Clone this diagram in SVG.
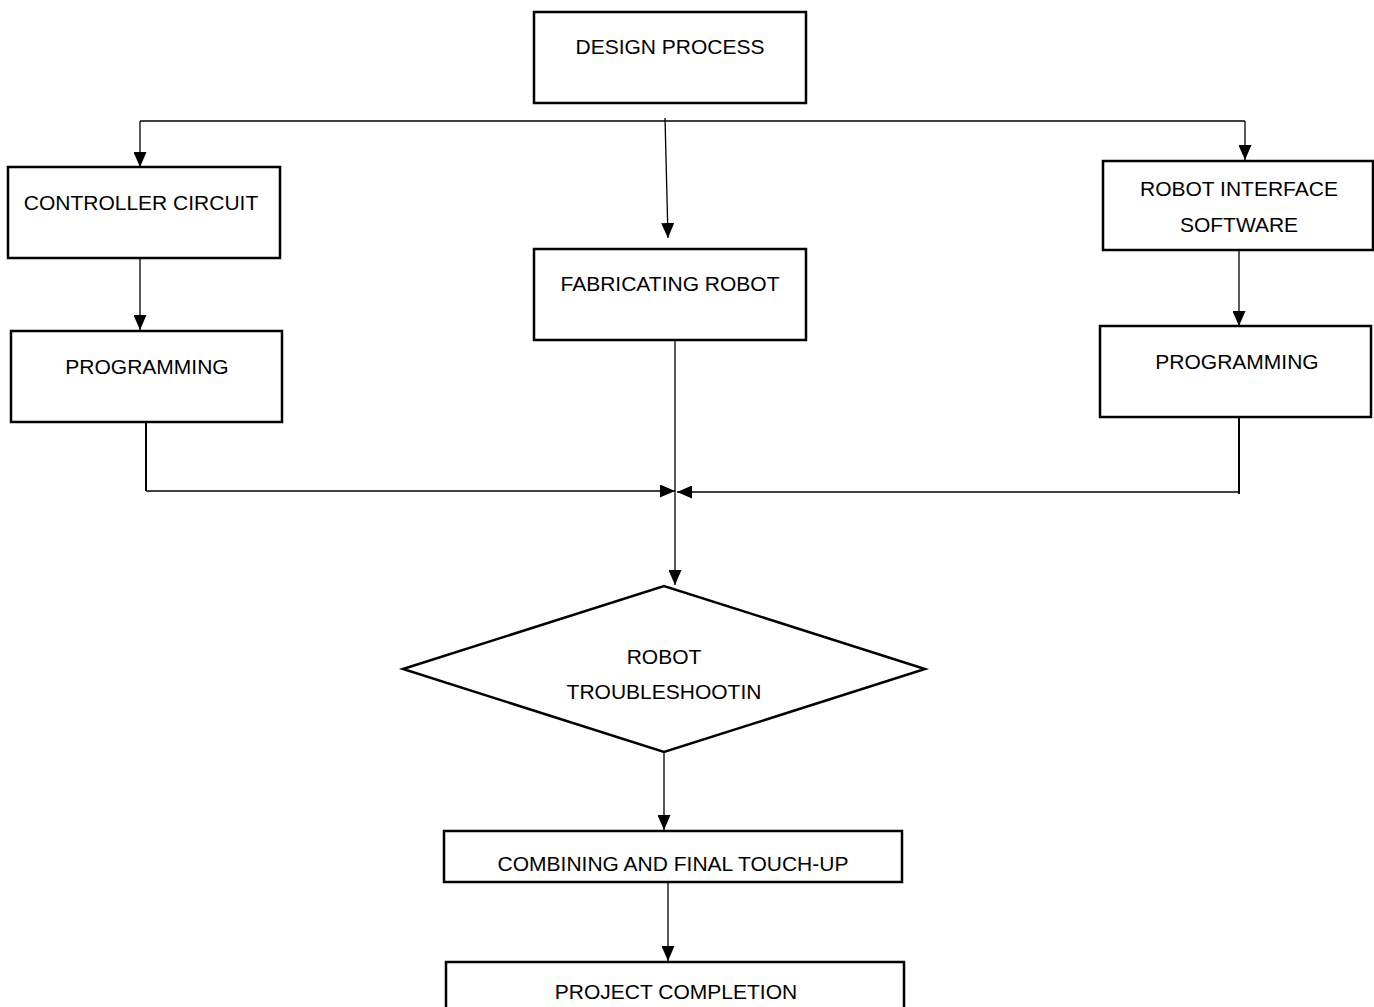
<svg xmlns="http://www.w3.org/2000/svg" width="1374" height="1007" viewBox="0 0 1374 1007">
<defs>
<style>
.box{fill:#fff;stroke:#000;stroke-width:2.5}
.ln{fill:none;stroke:#000;stroke-width:1.3}
.lnb{fill:none;stroke:#000;stroke-width:2}
text{font-family:"Liberation Sans",Arial,sans-serif;font-size:21px;fill:#000;text-anchor:middle}
</style>
<marker id="ah" viewBox="0 0 15 13" refX="15" refY="6.5" markerWidth="15" markerHeight="13" markerUnits="userSpaceOnUse" orient="auto">
<path d="M0,0 L15,6.5 L0,13 Z" fill="#000"/>
</marker>
</defs>
<rect width="1374" height="1007" fill="#fff"/>
<g id="connectors">
<path class="ln" d="M140,121 H1245"/>
<path class="ln" d="M140,121 V167" marker-end="url(#ah)"/>
<path class="ln" d="M1245,121 V160" marker-end="url(#ah)"/>
<path class="ln" d="M665,118 L668,238" marker-end="url(#ah)"/>
<path class="ln" d="M140,258 V330" marker-end="url(#ah)"/>
<path class="ln" d="M1239,250 V326" marker-end="url(#ah)"/>
<path class="lnb" d="M146,422 V491"/>
<path class="ln" d="M146,491 H675" marker-end="url(#ah)"/>
<path class="lnb" d="M1239,417 V494"/>
<path class="ln" d="M1239,492 H677" marker-end="url(#ah)"/>
<path class="ln" d="M675,340 V585" marker-end="url(#ah)"/>
<path class="ln" d="M664,752 V830" marker-end="url(#ah)"/>
<path class="ln" d="M668,882 V961" marker-end="url(#ah)"/>
</g>
<g id="design"><rect class="box" x="534" y="12" width="272" height="91"/><text x="670" y="54">DESIGN PROCESS</text></g>
<g id="controller"><rect class="box" x="8" y="167" width="272" height="91"/><text x="141" y="210">CONTROLLER CIRCUIT</text></g>
<g id="fabricating"><rect class="box" x="534" y="249" width="272" height="91"/><text x="670" y="291">FABRICATING ROBOT</text></g>
<g id="interface"><rect class="box" x="1103" y="161" width="270" height="89"/><text x="1239" y="196">ROBOT INTERFACE</text><text x="1239" y="232">SOFTWARE</text></g>
<g id="prog-left"><rect class="box" x="11" y="331" width="271" height="91"/><text x="147" y="374">PROGRAMMING</text></g>
<g id="prog-right"><rect class="box" x="1100" y="326" width="271" height="91"/><text x="1237" y="369">PROGRAMMING</text></g>
<g id="troubleshoot"><polygon class="box" points="403,669 664,586 925,669 664,752"/><text x="664" y="664">ROBOT</text><text x="664" y="699">TROUBLESHOOTIN</text></g>
<g id="combining"><rect class="box" x="444" y="831" width="458" height="51"/><text x="673" y="871">COMBINING AND FINAL TOUCH-UP</text></g>
<g id="completion"><rect class="box" x="446" y="962" width="458" height="60"/><text x="676" y="999">PROJECT COMPLETION</text></g>
</svg>
